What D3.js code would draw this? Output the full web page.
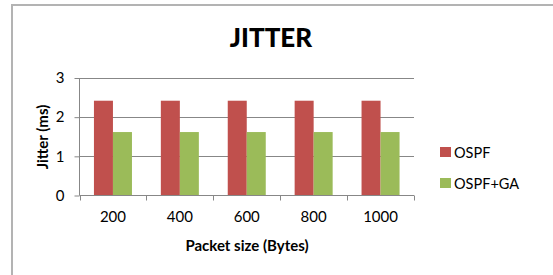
<!DOCTYPE html>
<html>
<head>
<meta charset="utf-8">
<script src="https://cdn.jsdelivr.net/npm/d3@7"></script>
<style>
  body { margin: 0; background: #fff; }
  svg { display: block; font-family: Lato, "Open Sans", sans-serif; }
</style>
</head>
<body>
<svg id="chart" width="553" height="275"></svg>
<script>
// chart data
const sizes = ["200", "400", "600", "800", "1000"];
const seriesNames = ["OSPF", "OSPF+GA"];
const ospf = [2.42, 2.42, 2.42, 2.42, 2.42];
const ospfGa = [1.62, 1.62, 1.62, 1.62, 1.62];
const yTicks = [0, 1, 2, 3];
const colors = ["#c0504d", "#9bbb59"];

const svg = d3.select("#chart");

// outer border (right and bottom run off the picture)
svg.append("path")
  .attr("d", "M12,276V5H560")
  .attr("fill", "none")
  .attr("stroke", "#b3b3b3")
  .attr("stroke-width", 2);

const plot = { left: 79.5, right: 414, top: 78, bottom: 195.5 };

const x = d3.scaleBand().domain(sizes).range([plot.left, plot.right]);
const inner = d3.scaleBand().domain(seriesNames)
  .range([0, x.bandwidth()]).paddingInner(0).paddingOuter(0.76);
const y = d3.scaleLinear().domain([0, 3]).range([plot.bottom, plot.top]);

// gridlines
svg.append("g").selectAll("line").data(yTicks.slice(1)).join("line")
  .attr("x1", plot.left).attr("x2", plot.right)
  .attr("y1", d => Math.round(y(d)) + 0.5).attr("y2", d => Math.round(y(d)) + 0.5)
  .attr("stroke", "#878787");

// bars
const rows = sizes.map((s, i) => ({ size: s, vals: [ospf[i], ospfGa[i]] }));
svg.append("g").selectAll("g").data(rows).join("g")
  .attr("transform", d => `translate(${x(d.size)},0)`)
  .selectAll("rect").data(d => d.vals.map((v, j) => ({ name: seriesNames[j], v, j })))
  .join("rect")
  .attr("x", d => inner(d.name))
  .attr("width", inner.bandwidth())
  .attr("y", d => y(d.v))
  .attr("height", d => y(0) - y(d.v))
  .attr("fill", d => colors[d.j]);

// y axis
const yAxis = svg.append("g")
  .attr("transform", `translate(${plot.left},0)`)
  .call(d3.axisLeft(y).tickValues(yTicks).tickFormat(d3.format("d")).tickSize(5).tickPadding(10));
yAxis.select(".domain").attr("stroke", "#878787").attr("d", `M0,${plot.top}V${plot.bottom}`);
yAxis.selectAll(".tick line").attr("stroke", "#878787");
yAxis.selectAll("text").attr("font-size", 15).attr("fill", "#000").attr("font-family", "Lato");

// x axis
const xAxis = svg.append("g")
  .attr("transform", `translate(0,${plot.bottom})`)
  .call(d3.axisBottom(x).tickSize(0).tickPadding(16));
xAxis.select(".domain").remove();
xAxis.selectAll("text").attr("font-size", 15).attr("fill", "#000").attr("font-family", "Lato");
svg.append("g").selectAll("line").data(sizes.map(s => x(s)).concat([plot.right])).join("line")
  .attr("x1", d => Math.round(d) + 0.5).attr("x2", d => Math.round(d) + 0.5)
  .attr("y1", plot.bottom).attr("y2", plot.bottom + 5)
  .attr("stroke", "#878787");
svg.append("line")
  .attr("x1", plot.left).attr("x2", plot.right)
  .attr("y1", plot.bottom).attr("y2", plot.bottom)
  .attr("stroke", "#878787");

// title
svg.append("text")
  .attr("x", 271).attr("y", 47)
  .attr("text-anchor", "middle")
  .attr("font-size", 26).attr("font-weight", "900")
  .text("JITTER");

// axis titles
svg.append("text")
  .attr("x", 247).attr("y", 251)
  .attr("text-anchor", "middle")
  .attr("font-size", 15).attr("font-weight", "bold")
  .text("Packet size (Bytes)");
svg.append("text")
  .attr("transform", "translate(48,137) rotate(-90)")
  .attr("text-anchor", "middle")
  .attr("font-size", 15).attr("font-weight", "bold")
  .text("Jitter (ms)");

// legend
const legend = svg.append("g").selectAll("g").data(seriesNames).join("g")
  .attr("transform", (d, i) => `translate(440,${147 + i * 31})`);
legend.append("rect").attr("width", 11).attr("height", 10)
  .attr("fill", (d, i) => colors[i]);
legend.append("text").attr("x", 14).attr("y", 10.5)
  .attr("font-size", 14.5)
  .text(d => d);
</script>
</body>
</html>
